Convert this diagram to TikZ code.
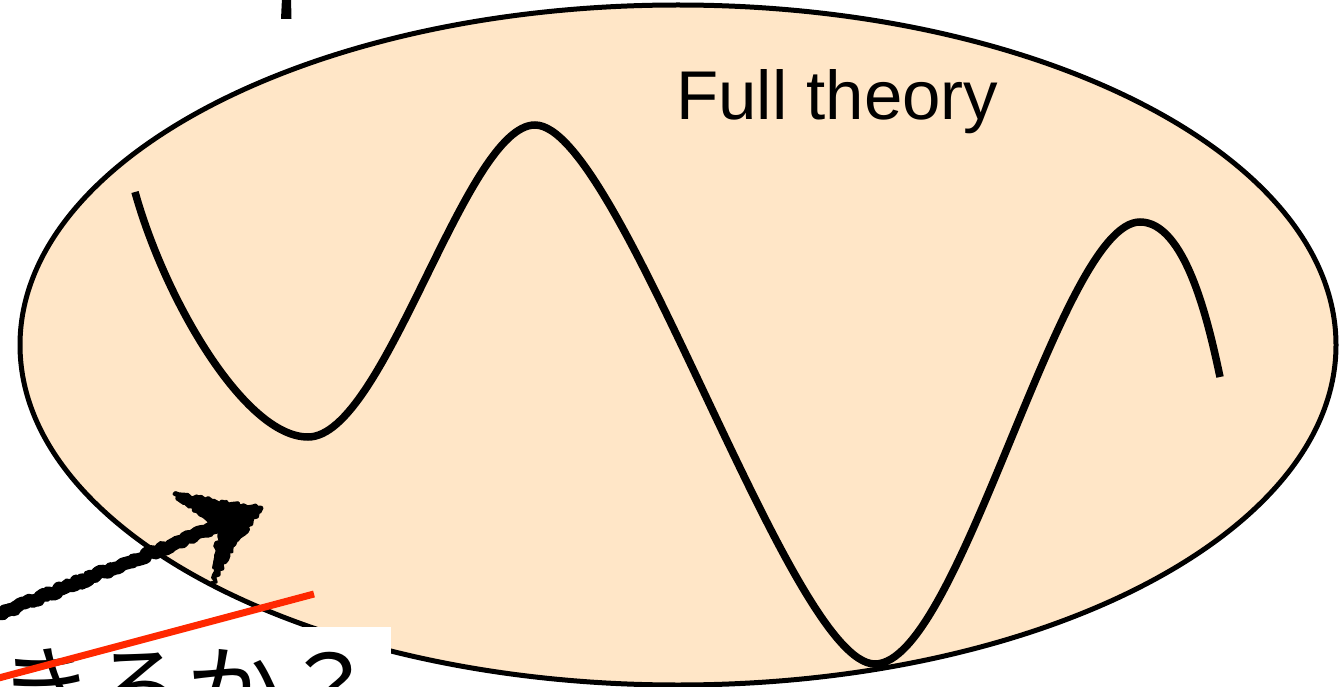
\documentclass[tikz,border=0pt]{standalone}
\usepackage{fontspec}
\setmainfont{Liberation Sans}
\newfontfamily\cjk{Noto Sans CJK JP}
\usetikzlibrary{decorations.pathmorphing}
\definecolor{setfill}{RGB}{255,230,199}
\definecolor{redline}{RGB}{255,40,0}
\tikzset{
  setshape/.style={draw=black, line width=5pt, fill=setfill},
  wave/.style={draw=black, line width=7.5pt},
  chalk/.style={draw=black, line width=13pt, line cap=round, line join=round,
    decorate, decoration={random steps, segment length=3pt, amplitude=2pt}},
  chalkfill/.style={draw=black, fill=black, line width=3pt, line join=round,
    decorate, decoration={random steps, segment length=3pt, amplitude=2pt}},
  strike/.style={draw=redline, line width=7pt},
  jpbox/.style={fill=white, inner xsep=14pt, inner ysep=0pt, text height=97pt, text depth=30pt,
    font=\cjk\fontsize{95}{100}\selectfont},
  label/.style={inner sep=0pt, font=\fontsize{69}{80}\selectfont}
}
\begin{document}
\begin{tikzpicture}[x=1pt, y=-1pt]
\pgfmathsetseed{7}
\useasboundingbox (0,0) rectangle (1339,687);
\clip (0,0) rectangle (1339,687);
% top mark
\fill[black] (282,-2) -- (291,-2) -- (291.5,19) -- (281,19) -- cycle;
% ellipse set
\path[setshape] (678,345) ellipse [x radius=658, y radius=340];
% wave
\coordinate (w0) at (135,192);
\coordinate (w1) at (308,437);
\coordinate (w2) at (535,125);
\coordinate (w3) at (875,664);
\coordinate (w4) at (1140,222);
\coordinate (w5) at (1220,377);
\draw[wave] (w0) .. controls (165,300) and (245,437) .. (w1)
  .. controls (385,437) and (465,125) .. (w2)
  .. controls (620,125) and (790,664) .. (w3)
  .. controls (960,664) and (1060,222) .. (w4)
  .. controls (1185,222) and (1208,320) .. (w5);
% label
\node[label, anchor=base west] (full) at (676,120) {Full theory};
% chalk arrow
\coordinate (as) at (-15,620);
\coordinate (at) at (262,508);
\draw[chalk] (as) -- (238,518);
\fill[black] (at) circle [radius=0.1pt];
\draw[chalkfill] (174,494) -- (at) -- (250,525) -- (232,548) -- (213,584) -- (216,548) -- (222,530) -- (200,515) -- cycle;
% Japanese text box
\node[jpbox, anchor=north east] (jp) at (391,627) {きるか？};
% red strike line
\coordinate (r1) at (-5,679);
\coordinate (r2) at (314,594);
\draw[strike] (r1) -- (r2);
\end{tikzpicture}
\end{document}
